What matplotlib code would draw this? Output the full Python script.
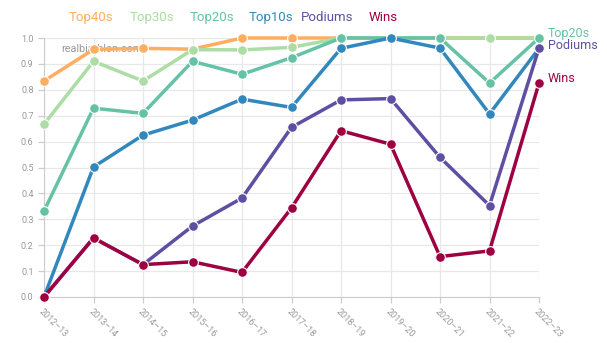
import matplotlib.pyplot as plt
import numpy as np

plt.rcParams['font.family'] = ['Roboto', 'DejaVu Sans']

seasons = ['2012–13', '2013–14', '2014–15', '2015–16', '2016–17', '2017–18',
           '2018–19', '2019–20', '2020–21', '2021–22', '2022–23']

top40s = [0.834, 0.956, 0.960, 0.957, 1.0, 1.0, 1.0, 1.0, 1.0, 1.0, 1.0]
top30s = [0.667, 0.910, 0.834, 0.955, 0.954, 0.964, 1.0, 1.0, 1.0, 1.0, 1.0]
top20s = [0.332, 0.729, 0.709, 0.910, 0.860, 0.924, 1.0, 1.0, 1.0, 0.826, 1.0]
top10s = [0.0, 0.502, 0.625, 0.683, 0.764, 0.732, 0.960, 1.0, 0.961, 0.707, 0.960]
podiums = [0.0, 0.228, 0.125, 0.274, 0.382, 0.655, 0.761, 0.766, 0.539, 0.353, 0.961]
wins = [0.0, 0.228, 0.125, 0.136, 0.095, 0.344, 0.642, 0.590, 0.156, 0.178, 0.826]

names = ['Top40s', 'Top30s', 'Top20s', 'Top10s', 'Podiums', 'Wins']
series = [top40s, top30s, top20s, top10s, podiums, wins]
colors = ['#fdae61', '#abdda4', '#66c2a5', '#3288bd', '#5e4fa2', '#9e0142']

fig = plt.figure(figsize=(6.07, 3.43), dpi=100)
ax = fig.add_axes([44/607, 1-297/343, (539-44)/607, (297-38)/343])

x = np.arange(len(seasons))
for i, (name, vals, c) in enumerate(zip(names, series, colors)):
    ax.plot(x, vals, color=c, lw=2.5, marker='o', ms=7, mfc=c, mec='white',
            mew=0.8, clip_on=False, zorder=3 + i)

ax.set_xlim(0, len(seasons) - 1)
ax.set_ylim(0, 1.0)
ax.set_yticks(np.arange(0, 1.01, 0.1))
ax.set_yticklabels(['%.1f' % v for v in np.arange(0, 1.01, 0.1)])
ax.set_xticks(x)
ax.set_xticklabels(seasons, rotation=-45, ha='left', va='top', rotation_mode='anchor')

ax.grid(True, color='#e8e8e8', lw=0.9)
ax.set_axisbelow(True)
for s in ['top', 'right']:
    ax.spines[s].set_visible(False)
for s in ['left', 'bottom']:
    ax.spines[s].set_color('#cccccc')
ax.tick_params(colors='#cccccc', labelcolor='#999999', labelsize=6.5, length=4, width=0.9)

# watermark
ax.text(17/495, 0.958, 'realbiathlon.com', color='#999999', fontsize=7.8,
        va='center', ha='left', transform=ax.transAxes, zorder=2)

# legend across top
legend_x = [69, 130, 190, 249, 301, 369]
for name, c, lx in zip(names, colors, legend_x):
    fig.text(lx/607, 1-17.5/343, name, color=c, fontsize=9.5, va='center', ha='left')

# end labels
end_labels = [('Top20s', colors[2], 33), ('Podiums', colors[4], 45.5), ('Wins', colors[5], 79)]
for lab, c, ly in end_labels:
    fig.text(548/607, 1-ly/343, lab, color=c, fontsize=9, va='center', ha='left')

fig.savefig('out.png', dpi=100)
